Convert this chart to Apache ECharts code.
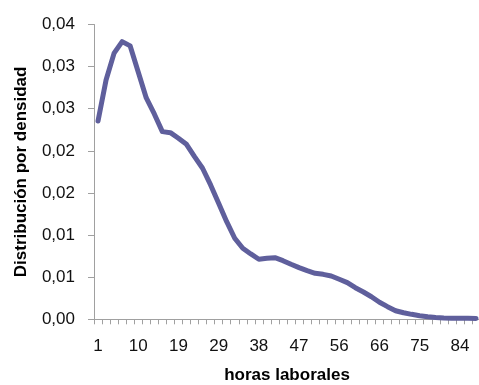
<!DOCTYPE html>
<html>
<head>
<meta charset="utf-8">
<script src="https://cdn.jsdelivr.net/npm/echarts@6/dist/echarts.min.js"></script>
<style>
  html, body { margin: 0; padding: 0; background: #ffffff; }
  #chart { width: 479px; height: 385px; }
</style>
</head>
<body>
<div id="chart"></div>
<script>
// Horas laborales (bin labels along the x axis)
const horas = [
  1, 3, 5, 7, 8, 10, 12, 14, 16, 18,
  19, 21, 23, 25, 27, 29, 31, 32, 34, 36,
  38, 40, 42, 43, 45, 47, 49, 51, 53, 54,
  56, 58, 60, 62, 64, 66, 67, 69, 71, 73,
  75, 77, 79, 80, 82, 84, 86, 88
];

// Estimated density for each bin
const densidad = [
  0.02355, 0.02842, 0.03160, 0.03297, 0.03246, 0.02937, 0.02628, 0.02438, 0.02228, 0.02216,
  0.02150, 0.02078, 0.01931, 0.01793, 0.01595, 0.01378, 0.01159, 0.00962, 0.00843, 0.00776,
  0.00713, 0.00724, 0.00732, 0.00696, 0.00653, 0.00613, 0.00577, 0.00546, 0.00534, 0.00514,
  0.00475, 0.00435, 0.00375, 0.00324, 0.00268, 0.00202, 0.00150, 0.00102, 0.00078, 0.00059,
  0.00043, 0.00031, 0.00022, 0.00016, 0.00013, 0.00012, 0.00011, 0.00010
];

// Value axis range and step
const yMin = 0;
const yMax = 0.035;
const yStep = 0.005;

const FONT = '"Liberation Sans", Arial, sans-serif';

function formatDensidad(v) {
  const r = Math.round(v * 100 + 1e-9) / 100;
  return r.toFixed(2).replace('.', ',');
}

const chart = echarts.init(document.getElementById('chart'), null, { renderer: 'canvas' });

chart.setOption({
  backgroundColor: '#ffffff',
  animation: false,
  grid: {
    left: 94, top: 24.5, right: -1, bottom: 65.7,
    containLabel: false,
    outerBoundsMode: 'none'
  },
  xAxis: {
    type: 'category',
    data: horas.map(String),
    boundaryGap: true,
    name: 'horas laborales',
    nameLocation: 'middle',
    nameGap: 48,
    nameTextStyle: { fontFamily: FONT, fontSize: 17, fontWeight: 'bold', color: '#000000' },
    axisLine: { show: true, lineStyle: { color: '#a0a0a0', width: 1 } },
    axisTick: { show: true, interval: 0, length: 5, lineStyle: { color: '#a0a0a0' } },
    axisLabel: {
      interval: 4,
      margin: 19,
      fontFamily: FONT,
      fontSize: 17,
      color: '#111111'
    },
    splitLine: { show: false }
  },
  yAxis: {
    type: 'value',
    min: yMin,
    max: yMax,
    interval: yStep,
    name: 'Distribución por densidad',
    nameLocation: 'middle',
    nameRotate: 90,
    nameGap: 64,
    nameTextStyle: { fontFamily: FONT, fontSize: 17, fontWeight: 'bold', color: '#000000' },
    axisLine: { show: true, lineStyle: { color: '#a0a0a0', width: 1 } },
    axisTick: { show: true, length: 6, lineStyle: { color: '#a0a0a0' } },
    axisLabel: {
      margin: 19,
      fontFamily: FONT,
      fontSize: 17,
      color: '#111111',
      formatter: formatDensidad
    },
    splitLine: { show: false }
  },
  series: [{
    type: 'line',
    data: densidad,
    showSymbol: false,
    symbol: 'none',
    lineStyle: { color: '#5f5f9c', width: 5, cap: 'round', join: 'round' },
    itemStyle: { color: '#5f5f9c' }
  }]
});
</script>
</body>
</html>
